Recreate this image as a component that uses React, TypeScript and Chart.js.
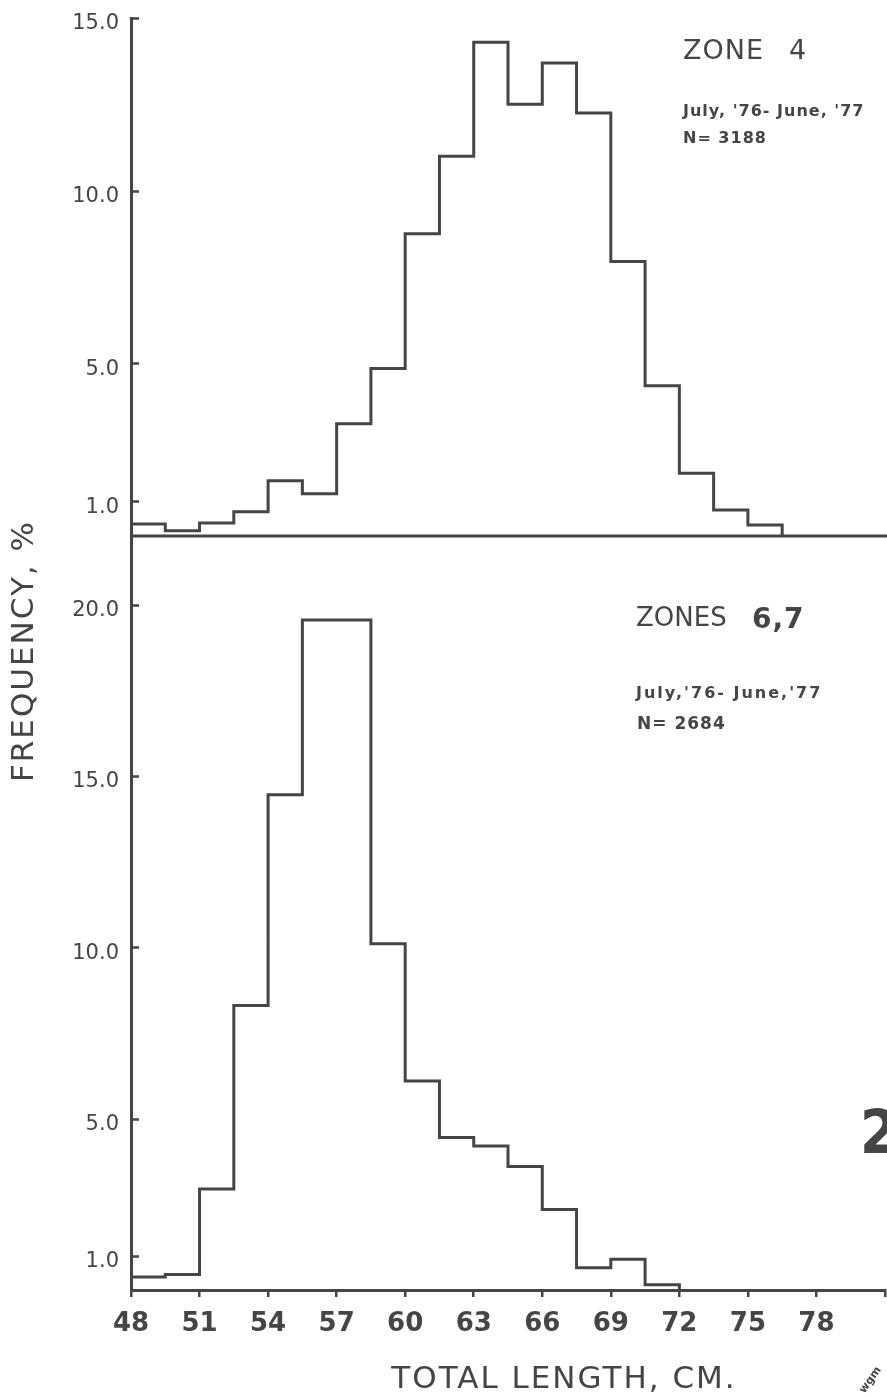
import React, { useEffect, useRef } from "react";
import { Chart, registerables } from "chart.js";

Chart.register(...registerables);

// ---- data ----
const binEdges = [48, 49.5, 51, 52.5, 54, 55.5, 57, 58.5, 60, 61.5, 63, 64.5, 66, 67.5, 69, 70.5, 72, 73.5, 75, 76.5];

// Zone 4, July '76 - June '77, N = 3188 (frequency %, one value per 1.5 cm bin starting at 48)
const zone4Values = [0.35, 0.15, 0.38, 0.7, 1.6, 1.22, 3.25, 4.85, 8.75, 11.0, 14.3, 12.5, 13.7, 12.25, 7.95, 4.35, 1.82, 0.75, 0.32];

// Zones 6,7, July '76 - June '77, N = 2684
const zone67Values = [0.38, 0.45, 2.95, 8.3, 14.45, 19.55, 19.55, 10.1, 6.1, 4.45, 4.2, 3.6, 2.35, 0.65, 0.9, 0.15];

const xTicks = [48, 51, 54, 57, 60, 63, 66, 69, 72, 75, 78, 81];
const xTickLabels = ["48", "51", "54", "57", "60", "63", "66", "69", "72", "75", "78", ""];

const topYTicks = [1, 5, 10, 15];
const topYTickLabels = ["1.0", "5.0", "10.0", "15.0"];
const bottomYTicks = [1, 5, 10, 15, 20];
const bottomYTickLabels = ["1.0", "5.0", "10.0", "15.0", "20.0"];

const INK = "#454545";
const FONT = '"DejaVu Sans", sans-serif';

function stepPoints(edges: number[], values: number[]) {
  const pts = values.map((v, i) => ({ x: edges[i], y: v }));
  pts.push({ x: edges[values.length], y: 0 });
  return pts;
}

const decorPlugin = {
  id: "decor",
  afterDraw(chart: any) {
    const ctx = chart.ctx as CanvasRenderingContext2D;
    const area = chart.chartArea;
    const yT = chart.scales.yTop;
    const yB = chart.scales.yBot;
    ctx.save();
    ctx.strokeStyle = INK;
    ctx.lineWidth = 2.5;
    ctx.lineCap = "butt";
    // inner tick marks on the vertical axis
    const pairs: [any, number[]][] = [
      [yT, topYTicks],
      [yB, bottomYTicks],
    ];
    for (const [scale, ticks] of pairs) {
      for (const v of ticks) {
        const y = Math.round(scale.getPixelForValue(v)) + 0.5;
        ctx.beginPath();
        ctx.moveTo(area.left, y);
        ctx.lineTo(area.left + 8, y);
        ctx.stroke();
      }
    }
    // zero line of upper panel (panel divider)
    const y0 = yT.getPixelForValue(0);
    ctx.lineWidth = 3;
    ctx.beginPath();
    ctx.moveTo(area.left, y0);
    ctx.lineTo(chart.width, y0);
    ctx.stroke();

    // texts
    ctx.fillStyle = INK;
    ctx.textBaseline = "middle";
    const text = (t: string, x: number, y: number, font: string, spacing = "0px", align: CanvasTextAlign = "left") => {
      ctx.font = font;
      (ctx as any).letterSpacing = spacing;
      ctx.textAlign = align;
      ctx.fillText(t, x, y);
    };

    text("ZONE", 683, 52, `27px ${FONT}`, "1px");
    text("4", 789, 52, `27px ${FONT}`, "0px");
    text("July, '76- June, '77", 683, 112, `bold 16px ${FONT}`, "1px");
    text("N= 3188", 683, 139, `bold 16px ${FONT}`, "1px");

    text("ZONES", 636, 619, `26px ${FONT}`, "0px");
    text("6,7", 752, 621, `bold 28px ${FONT}`, "1px");
    text("July,'76- June,'77", 636, 694, `bold 16px ${FONT}`, "2px");
    text("N= 2684", 637, 725, `bold 17px ${FONT}`, "1px");

    text("TOTAL LENGTH, CM.", 564, 1380, `31px ${FONT}`, "2px", "center");

    // rotated y title
    ctx.save();
    ctx.translate(25, 651);
    ctx.rotate(-Math.PI / 2);
    text("FREQUENCY, %", 0, 0, `31px ${FONT}`, "2px", "center");
    ctx.restore();

    // figure number fragment at right edge and signature
    text("2", 860, 1137, `bold 60px "DejaVu Sans Condensed", ${FONT}`, "0px");
    ctx.save();
    ctx.translate(862, 1392);
    ctx.rotate(-0.95);
    text("wgm", 0, 0, `bold 11px ${FONT}`, "0px");
    ctx.restore();

    ctx.restore();
  },
};

export default function App() {
  const ref = useRef<HTMLCanvasElement>(null);

  useEffect(() => {
    const canvas = ref.current!;
    const yCommon = (ticks: number[], labels: string[]) => ({
      type: "linear" as const,
      position: "left" as const,
      stack: "panels",
      min: 0,
      afterBuildTicks: (scale: any) => {
        scale.ticks = ticks.map((v) => ({ value: v }));
      },
      afterFit: (scale: any) => {
        scale.width = 131;
        scale.paddingTop = 0;
        scale.paddingBottom = 0;
      },
      ticks: {
        callback: (_v: any, i: number) => labels[i],
        color: INK,
        font: { family: FONT, size: 21 },
        padding: 12,
        labelOffset: 6,
        autoSkip: false,
      },
      grid: { display: false, drawTicks: false },
      border: { display: true, color: INK, width: 3 },
    });

    const chart = new Chart(canvas, {
      type: "line",
      data: {
        datasets: [
          {
            label: "Zone 4",
            data: stepPoints(binEdges, zone4Values),
            xAxisID: "x",
            yAxisID: "yTop",
            stepped: true,
            borderColor: INK,
            borderWidth: 3,
            pointRadius: 0,
            fill: false,
            borderJoinStyle: "miter",
          },
          {
            label: "Zones 6,7",
            data: stepPoints(binEdges, zone67Values),
            xAxisID: "x",
            yAxisID: "yBot",
            stepped: true,
            borderColor: INK,
            borderWidth: 3,
            pointRadius: 0,
            fill: false,
            borderJoinStyle: "miter",
          },
        ],
      },
      options: {
        animation: false,
        responsive: false,
        layout: { padding: { top: 18, right: 2, left: 0, bottom: 0 } },
        plugins: { legend: { display: false }, tooltip: { enabled: false } },
        scales: {
          x: {
            type: "linear",
            position: "bottom",
            min: 48,
            max: 81,
            afterBuildTicks: (scale: any) => {
              scale.ticks = xTicks.map((v) => ({ value: v }));
            },
            afterFit: (scale: any) => {
              scale.height = 108;
              scale.paddingLeft = 0;
              scale.paddingRight = 0;
            },
            ticks: {
              callback: (_v: any, i: number) => xTickLabels[i],
              color: INK,
              font: { family: FONT, size: 26, weight: "bold" },
              padding: 12,
              autoSkip: false,
              maxRotation: 0,
            },
            grid: { drawOnChartArea: false, drawTicks: true, tickLength: 7, color: INK, lineWidth: 2.5 },
            border: { display: true, color: INK, width: 3 },
          },
          yBot: { ...yCommon(bottomYTicks, bottomYTickLabels), max: 22, stackWeight: 754 },
          yTop: { ...yCommon(topYTicks, topYTickLabels), max: 15, stackWeight: 518 },
        },
      } as any,
      plugins: [decorPlugin],
    });
    return () => chart.destroy();
  }, []);

  return (
    <div style={{ position: "absolute", left: 0, top: 0, width: 887, height: 1398, background: "#fff" }}>
      <canvas ref={ref} width={887} height={1398} style={{ display: "block", width: 887, height: 1398 }} />
    </div>
  );
}
